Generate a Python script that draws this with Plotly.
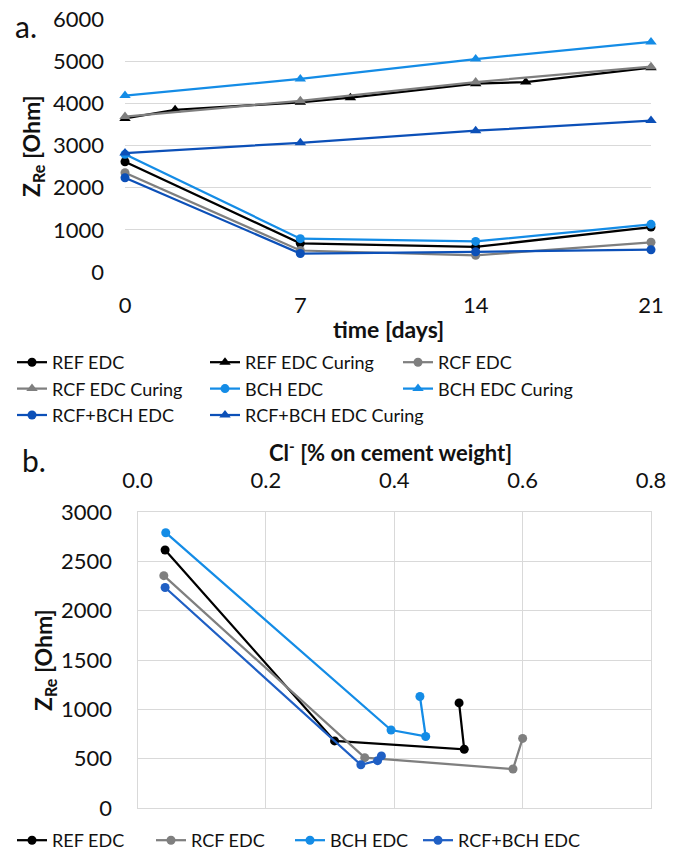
import plotly.graph_objects as go

W, H = 684, 854

# ---------- data ----------
days = [0, 7, 14, 21]
ref_curing_days = [0, 2, 7, 9, 14, 16, 21]

ref_edc = [2615, 680, 595, 1065]
ref_edc_curing = [3640, 3845, 4025, 4135, 4465, 4505, 4845]
rcf_edc = [2355, 510, 395, 705]
rcf_edc_curing = [3685, 4060, 4505, 4870]
bch_edc = [2790, 790, 725, 1130]
bch_edc_curing = [4185, 4580, 5050, 5455]
rcfbch_edc = [2235, 438, 480, 528]
rcfbch_edc_curing = [2820, 3065, 3350, 3590]

# chloride content (% on cement weight) at days 0, 7, 14, 21
ref_cl = [0.043, 0.307, 0.509, 0.501]
rcf_cl = [0.041, 0.354, 0.585, 0.600]
bch_cl = [0.044, 0.395, 0.449, 0.440]
rcfbch_cl = [0.043, 0.348, 0.374, 0.380]

top_xticks = [0, 7, 14, 21]
bot_xticks = [0.0, 0.2, 0.4, 0.6, 0.8]

# ---------- styles ----------
BLACK = "#000000"
GRAY = "#7f7f7f"
LBLUE = "#148ce6"
DBLUE = "#0c50b8"
DBLUE2 = "#1f5fc4"
FONT = "Lato"
GRID = "#d9d9d9"
TXT = "#111111"


def px_x(p):
    return p / W


def px_y(p):
    return 1 - p / H


fig = go.Figure()

top_series = [
    ("REF EDC", days, ref_edc, BLACK, "circle"),
    ("REF EDC Curing", ref_curing_days, ref_edc_curing, BLACK, "triangle-up"),
    ("RCF EDC", days, rcf_edc, GRAY, "circle"),
    ("RCF EDC Curing", days, rcf_edc_curing, GRAY, "triangle-up"),
    ("BCH EDC", days, bch_edc, LBLUE, "circle"),
    ("BCH EDC Curing", days, bch_edc_curing, LBLUE, "triangle-up"),
    ("RCF+BCH EDC", days, rcfbch_edc, DBLUE, "circle"),
    ("RCF+BCH EDC Curing", days, rcfbch_edc_curing, DBLUE, "triangle-up"),
]
for name, xs, ys, col, sym in top_series:
    fig.add_trace(go.Scatter(
        x=xs, y=ys, name=name, mode="lines+markers",
        line=dict(color=col, width=2.25),
        marker=dict(color=col, symbol=sym, size=9 if sym == "circle" else 10),
        xaxis="x", yaxis="y", legend="legend", cliponaxis=False,
    ))

bot_series = [
    ("REF EDC", ref_cl, ref_edc, BLACK, "legend2"),
    ("RCF EDC", rcf_cl, rcf_edc, GRAY, "legend2"),
    ("BCH EDC", bch_cl, bch_edc, LBLUE, "legend2"),
    ("RCF+BCH EDC", rcfbch_cl, rcfbch_edc, DBLUE2, "legend3"),
]
for name, xs, ys, col, lg in bot_series:
    fig.add_trace(go.Scatter(
        x=xs, y=ys, name=name, mode="lines+markers",
        line=dict(color=col, width=2.25),
        marker=dict(color=col, symbol="circle", size=9),
        xaxis="x2", yaxis="y2", legend=lg, cliponaxis=False,
    ))

tickfont = dict(family=FONT, size=22, color=TXT)
legfont = dict(family=FONT, size=18, color=TXT)

fig.update_layout(
    width=W, height=H,
    margin=dict(l=0, r=0, t=0, b=0, autoexpand=False),
    paper_bgcolor="white", plot_bgcolor="white",
    font=dict(family=FONT, color=TXT),
    xaxis=dict(
        domain=[px_x(125), px_x(651)], anchor="y", automargin=False,
        range=[0, 21], tickvals=top_xticks,
        showgrid=False, zeroline=False, showline=False,
        tickfont=tickfont, ticklabelstandoff=18,
    ),
    yaxis=dict(
        domain=[px_y(272), px_y(19)], anchor="x", automargin=False,
        range=[0, 6000], dtick=1000,
        showgrid=True, gridcolor=GRID, gridwidth=1.2,
        zeroline=False, showline=False,
        tickfont=tickfont, ticklabelstandoff=20,
    ),
    xaxis2=dict(
        domain=[px_x(137.5), px_x(651)], anchor="y2", side="top", automargin=False,
        range=[0, 0.8], tickvals=bot_xticks, tickformat=".1f",
        showgrid=True, gridcolor=GRID, gridwidth=1.2,
        zeroline=False, showline=True, linecolor=GRID, linewidth=1.2,
        mirror=True, tickfont=tickfont, ticklabelstandoff=14,
    ),
    yaxis2=dict(
        domain=[px_y(808), px_y(512)], anchor="x2", automargin=False,
        range=[0, 3000], dtick=500,
        showgrid=True, gridcolor=GRID, gridwidth=1.2,
        zeroline=False, showline=True, linecolor=GRID, linewidth=1.2,
        mirror=True, tickfont=tickfont, ticklabelstandoff=20,
    ),
    legend=dict(
        orientation="h", x=px_x(12), y=px_y(344), xanchor="left", yanchor="top",
        entrywidth=148, entrywidthmode="pixels",
        font=legfont, itemwidth=30, tracegroupgap=0, bgcolor="rgba(0,0,0,0)",
    ),
    legend2=dict(
        orientation="h", x=px_x(12), y=px_y(822), xanchor="left", yanchor="top",
        entrywidth=94, entrywidthmode="pixels",
        font=legfont, itemwidth=30, bgcolor="rgba(0,0,0,0)",
    ),
    legend3=dict(
        orientation="h", x=px_x(418), y=px_y(822), xanchor="left", yanchor="top",
        font=legfont, itemwidth=30, bgcolor="rgba(0,0,0,0)",
    ),
    showlegend=True,
)

annots = [
    dict(text="a.", x=px_x(13), y=px_y(26), xanchor="left", yanchor="middle",
         font=dict(family=FONT, size=30, color=TXT)),
    dict(text="b.", x=px_x(20), y=px_y(460), xanchor="left", yanchor="middle",
         font=dict(family=FONT, size=30, color=TXT)),
    dict(text="<b>time [days]</b>", x=px_x(388), y=px_y(329), xanchor="center", yanchor="middle",
         font=dict(family=FONT, size=23, color=TXT)),
    dict(text="<b>Z<sub>Re</sub> [Ohm]</b>", x=px_x(33), y=px_y(146), xanchor="center", yanchor="middle",
         textangle=-90, font=dict(family=FONT, size=23, color=TXT)),
    dict(text="<b>Cl<sup>-</sup> [% on cement weight]</b>", x=px_x(390), y=px_y(451),
         xanchor="center", yanchor="middle",
         font=dict(family=FONT, size=22, color=TXT)),
    dict(text="<b>Z<sub>Re</sub> [Ohm]</b>", x=px_x(44), y=px_y(660), xanchor="center", yanchor="middle",
         textangle=-90, font=dict(family=FONT, size=23, color=TXT)),
]
for a in annots:
    a.update(xref="paper", yref="paper", showarrow=False)
    fig.add_annotation(**a)

fig.write_html("out.html")
